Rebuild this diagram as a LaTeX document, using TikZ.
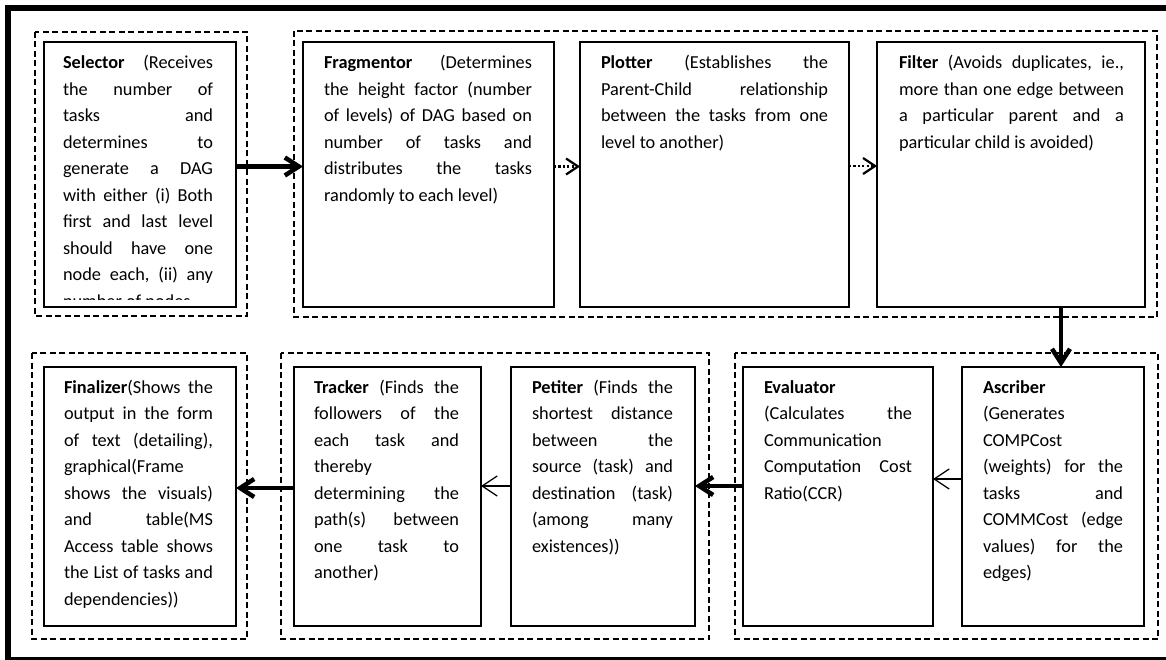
\documentclass[tikz,border=0pt]{standalone}
\usepackage{fontspec}
\setmainfont{Carlito}
\usetikzlibrary{arrows.meta}
\setlength{\parindent}{0pt}
\hyphenpenalty=10000 \exhyphenpenalty=10000 \tolerance=10000 \hbadness=10000 \vbadness=10000
\frenchspacing
\newcommand{\bxfont}{\fontsize{18.3pt}{26.5pt}\selectfont}
\newcommand{\fl}{\rule{0pt}{15pt}}
\begin{document}
\begin{tikzpicture}[x=1pt,y=-1pt,
 box/.style={draw,line width=1.8pt,anchor=north west,inner sep=0pt,outer sep=0pt},
 txt/.style={anchor=north west,inner sep=0pt,outer sep=0pt,align=justify,font=\bxfont},
 grp/.style={line width=1.5pt,dash pattern=on 6pt off 3.5pt},
 frame/.style={line width=5.5pt},
 bigarrow/.style={line width=4.5pt,-{Straight Barb[length=14pt,width=18pt]}},
 thinarrow/.style={line width=1.3pt,-{Straight Barb[length=15pt,width=20pt]}},
 dotarrow/.style={line width=2.2pt,dash pattern=on 2.2pt off 2.2pt,-{Straight Barb[length=12pt,width=16pt]}}]
\useasboundingbox (0,0) rectangle (1166,660);
\clip (0,0) rectangle (1166,660);
\fill[white] (0,0) rectangle (1166,660);
% outer frame
\draw[frame] (8,8) rectangle (1174,659.5);
% dashed groups
\draw[grp] (35,32) rectangle (247,316);
\draw[grp] (294,31) rectangle (1157,317);
\draw[grp] (32,353) rectangle (247,639);
\draw[grp] (281,353) rectangle (709,639);
\draw[grp] (735,353) rectangle (1158,639);
% boxes
\node[box,minimum width=192pt,minimum height=265pt] (sel) at (44,42) {};
\node[box,minimum width=251pt,minimum height=265pt] (frag) at (303,42) {};
\node[box,minimum width=269pt,minimum height=265pt] (plot) at (580,42) {};
\node[box,minimum width=268pt,minimum height=265pt] (filt) at (877,42) {};
\node[box,minimum width=192pt,minimum height=259pt] (fin) at (44,367) {};
\node[box,minimum width=187pt,minimum height=259pt] (track) at (294,367) {};
\node[box,minimum width=184pt,minimum height=259pt] (pet) at (511,367) {};
\node[box,minimum width=190pt,minimum height=259pt] (eval) at (743,367) {};
\node[box,minimum width=182pt,minimum height=259pt] (asc) at (962,367) {};
% texts
\begin{scope}
\clip (44,42) rectangle (236,299.5);
\node[txt,text width=150pt] (selt) at ([shift={(19pt,-12pt)}]sel.north west)
 {\parfillskip=0pt\fl\textbf{Selector} (Receives\linebreak the number of\linebreak tasks and\linebreak determines to\linebreak generate a DAG\linebreak with either (i) Both\linebreak first and last level\linebreak should have one\linebreak node each, (ii) any\linebreak number of nodes};
\end{scope}
\node[txt,text width=208pt] (fragt) at ([shift={(21pt,-12pt)}]frag.north west)
 {\fl\textbf{Fragmentor} (Determines\linebreak the height factor (number\linebreak of levels) of DAG based on\linebreak number of tasks and\linebreak distributes the tasks\linebreak randomly to each level)};
\node[txt,text width=227pt] (plott) at ([shift={(21pt,-12pt)}]plot.north west)
 {\fl\textbf{Plotter} (Establishes the\linebreak Parent-Child relationship\linebreak between the tasks from one\linebreak level to another)};
\node[txt,text width=225pt] (filtt) at ([shift={(22pt,-12pt)}]filt.north west)
 {\fl\textbf{Filter} (Avoids duplicates, ie.,\linebreak more than one edge between\linebreak a particular parent and a\linebreak particular child is avoided)};
\node[txt,text width=149pt] (fint) at ([shift={(20pt,-11pt)}]fin.north west)
 {\fl\textbf{Finalizer}(Shows the\linebreak output in the form\linebreak of text (detailing),\linebreak graphical(Frame\linebreak shows the visuals)\linebreak and table(MS\linebreak Access table shows\linebreak the List of tasks and\linebreak dependencies))};
\node[txt,text width=145pt] (trackt) at ([shift={(20pt,-11pt)}]track.north west)
 {\fl\textbf{Tracker} (Finds the\linebreak followers of the\linebreak each task and\linebreak thereby\linebreak determining the\linebreak path(s) between\linebreak one task to\linebreak another)};
\node[txt,text width=141pt] (pett) at ([shift={(21pt,-11pt)}]pet.north west)
 {\fl\textbf{Petiter} (Finds the\linebreak shortest distance\linebreak between the\linebreak source (task) and\linebreak destination (task)\linebreak (among many\linebreak existences))};
\node[txt,text width=148pt] (evalt) at ([shift={(21pt,-11pt)}]eval.north west)
 {\fl\textbf{Evaluator}\linebreak (Calculates the\linebreak Communication\linebreak Computation Cost\linebreak Ratio(CCR)};
\node[txt,text width=140pt] (asct) at ([shift={(21pt,-11pt)}]asc.north west)
 {\fl\textbf{Ascriber}\linebreak (Generates\linebreak COMPCost\linebreak (weights) for the\linebreak tasks and\linebreak COMMCost (edge\linebreak values) for the\linebreak edges)};
% connectors
\draw[bigarrow] ([yshift=8pt]sel.east) -- ([yshift=8pt]frag.west);
\draw[dotarrow] ([yshift=8pt]frag.east) -- ([yshift=8pt]plot.west);
\draw[dotarrow] ([yshift=8.5pt]plot.east) -- ([yshift=8.5pt]filt.west);
\draw[bigarrow] ([xshift=50pt]filt.south) -- ([xshift=50pt]filt.south |- asc.north);
\draw[thinarrow] ([yshift=17.5pt]asc.west) -- ([yshift=17.5pt]eval.east);
\draw[bigarrow] ([yshift=10.5pt]eval.west) -- ([yshift=10.5pt]pet.east);
\draw[thinarrow] ([yshift=10.5pt]pet.west) -- ([yshift=10.5pt]track.east);
\draw[bigarrow] ([yshift=8.5pt]track.west) -- ([yshift=8.5pt]fin.east);
\end{tikzpicture}
\end{document}
